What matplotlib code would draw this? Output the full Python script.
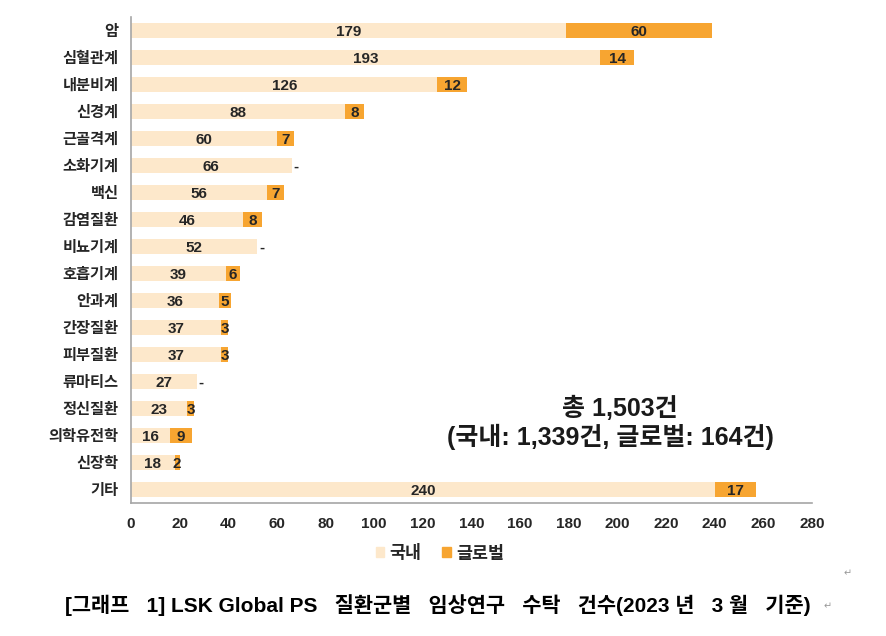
import matplotlib.pyplot as plt
from matplotlib.patches import Patch

plt.rcParams['font.family'] = ['Liberation Sans', 'Noto Sans CJK KR', 'DejaVu Sans']
plt.rcParams['font.weight'] = 'bold'

categories = ['암', '심혈관계', '내분비계', '신경계', '근골격계', '소화기계', '백신', '감염질환',
              '비뇨기계', '호흡기계', '안과계', '간장질환', '피부질환', '류마티스', '정신질환',
              '의학유전학', '신장학', '기타']
domestic = [179, 193, 126, 88, 60, 66, 56, 46, 52, 39, 36, 37, 37, 27, 23, 16, 18, 240]
global_ = [60, 14, 12, 8, 7, 0, 7, 8, 0, 6, 5, 3, 3, 0, 3, 9, 2, 17]
x_ticks = list(range(0, 281, 20))

c_dom = '#FDE8CB'
c_glb = '#F7A531'
c_txt = '#262626'

fig = plt.figure(figsize=(8.86, 6.36), dpi=100)
ax = fig.add_axes([131 / 886, 1 - 503 / 636, 681 / 886, 486 / 636])

y = list(range(len(categories)))
ax.barh(y, domestic, height=0.56, color=c_dom)
ax.barh(y, global_, left=domestic, height=0.56, color=c_glb)

for i, (d, g) in enumerate(zip(domestic, global_)):
    ax.text(d / 2, i + 0.04, str(d), ha='center', va='center', fontsize=11, color=c_txt)
    if g > 0:
        ax.text(d + g / 2, i + 0.04, str(g), ha='center', va='center', fontsize=11, color=c_txt)
    else:
        ax.text(d + 1.8, i + 0.04, '-', ha='center', va='center', fontsize=11, color=c_txt)

ax.set_xlim(0, 280)
ax.set_ylim(len(categories) - 0.5, -0.5)
ax.set_yticks(y)
ax.set_yticklabels(categories, fontsize=11, color=c_txt)
ax.set_xticks(x_ticks)
ax.set_xticklabels([str(t) for t in x_ticks], fontsize=11, color=c_txt)
ax.tick_params(length=0)
ax.tick_params(axis='x', pad=10)
ax.tick_params(axis='y', pad=9)
for s in ['top', 'right']:
    ax.spines[s].set_visible(False)
for s in ['left', 'bottom']:
    ax.spines[s].set_color('#A6A6A6')
    ax.spines[s].set_linewidth(1.2)

# 합계 주석
ax.text(620 / 886, 1 - 408 / 636, '총 1,503건', transform=fig.transFigure,
        ha='center', va='center', fontsize=18, color='#1a1a1a')
ax.text(610 / 886, 1 - 437 / 636, '(국내: 1,339건, 글로벌: 164건)', transform=fig.transFigure,
        ha='center', va='center', fontsize=18, color='#1a1a1a')

handles = [Patch(color=c_dom, label='국내'), Patch(color=c_glb, label='글로벌')]
fig.legend(handles=handles, loc='center', bbox_to_anchor=(440 / 886, 1 - 553 / 636), ncol=2,
           frameon=False, handlelength=0.5, handleheight=0.5, handletextpad=0.3,
           columnspacing=1.2, prop={'size': 12.5, 'weight': 'bold'}, labelcolor=c_txt)

fig.text(438 / 886, 1 - 605 / 636,
         '[그래프   1] LSK Global PS   질환군별   임상연구   수탁   건수(2023 년   3 월   기준)',
         ha='center', va='center', fontsize=15, color='black')
fig.text(848 / 886, 1 - 573 / 636, '↵', ha='center', va='center', fontsize=7, color='#999999',
         fontweight='normal')
fig.text(828 / 886, 1 - 606 / 636, '↵', ha='center', va='center', fontsize=7, color='#999999',
         fontweight='normal')

fig.savefig('out.png', dpi=100)
